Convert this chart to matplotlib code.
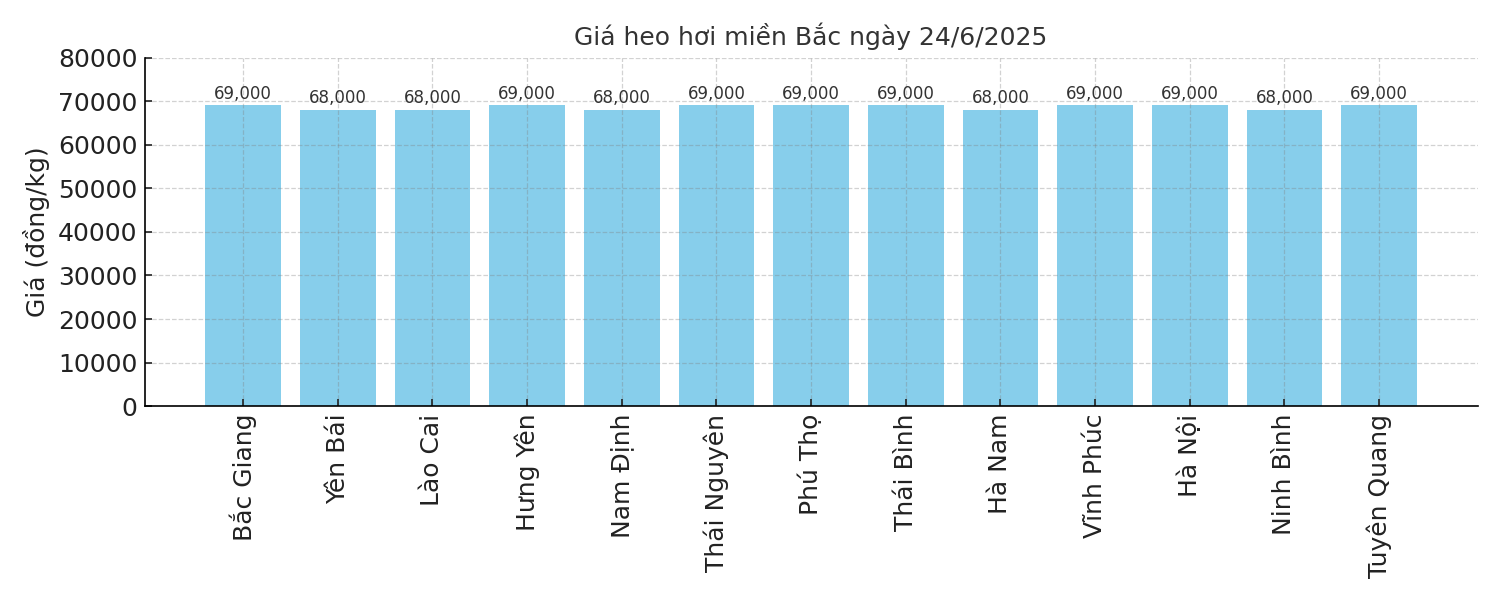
import matplotlib
matplotlib.use("Agg")
from matplotlib import pyplot as plt

provinces = ["Bắc Giang", "Yên Bái", "Lào Cai", "Hưng Yên", "Nam Định",
             "Thái Nguyên", "Phú Thọ", "Thái Bình", "Hà Nam", "Vĩnh Phúc",
             "Hà Nội", "Ninh Bình", "Tuyên Quang"]
prices = [69000, 68000, 68000, 69000, 68000, 69000, 69000, 69000, 68000,
          69000, 69000, 68000, 69000]

fig, ax = plt.subplots(figsize=(10, 4), dpi=150)
bars = ax.bar(provinces, prices, color="skyblue")

# value labels over each bar
for bar, price in zip(bars, prices):
    ax.text(bar.get_x() + bar.get_width() / 2, price + 600, f"{price:,}",
            ha="center", va="bottom", fontsize=8, color="#333333")

ax.set_title("Giá heo hơi miền Bắc ngày 24/6/2025", fontsize=12, color="#333333")
ax.set_ylabel("Giá (đồng/kg)", fontsize=12, color="#222222")
ax.set_ylim(0, 80000)
ax.set_yticks(range(0, 80001, 10000))
ax.tick_params(direction="in")
ax.tick_params(axis="x", labelrotation=90, labelsize=12, colors="#222222")
ax.tick_params(axis="y", labelsize=12, colors="#222222")
ax.grid(True, linestyle="--", color="gray", alpha=0.35, linewidth=0.6)
ax.spines["top"].set_visible(False)
ax.spines["right"].set_visible(False)

plt.tight_layout()
plt.savefig("out.png")
